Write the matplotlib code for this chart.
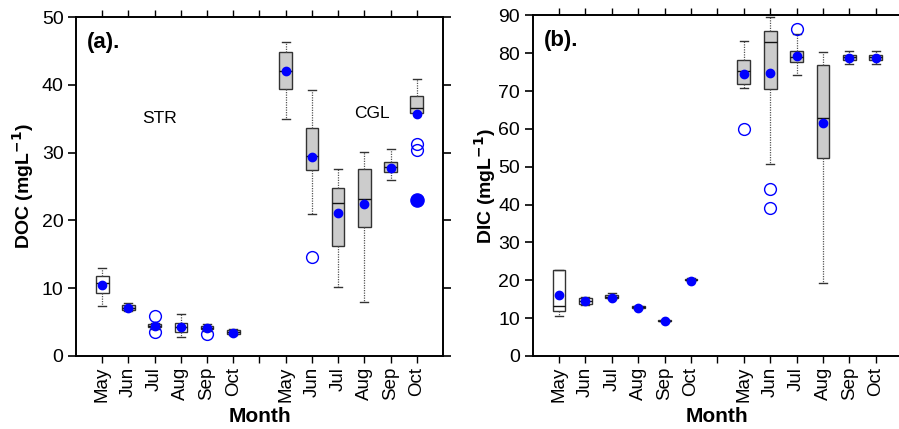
import matplotlib
matplotlib.use("Agg")
import matplotlib.pyplot as plt

plt.rcParams['font.family'] = ['Liberation Sans', 'DejaVu Sans']

months = ['May', 'Jun', 'Jul', 'Aug', 'Sep', 'Oct']
tick_labels = months + [''] + months
tick_pos = list(range(1, 14))
positions = [1, 2, 3, 4, 5, 6, 8, 9, 10, 11, 12, 13]

# DOC (panel a): STR May..Oct, CGL May..Oct
doc_whislo = [7.3, 6.6, 3.9, 2.75, 3.7, 3.1, 35.0, 20.9, 10.1, 7.9, 25.9, 35.8]
doc_q1 = [9.2, 6.7, 4.2, 3.45, 3.95, 3.2, 39.45, 27.45, 16.2, 18.96, 27.2, 35.8]
doc_med = [10.8, 7.1, 4.4, 4.2, 4.15, 3.5, 42.0, 29.5, 22.5, 23.1, 27.9, 36.6]
doc_q3 = [11.8, 7.45, 4.7, 4.9, 4.35, 3.75, 44.8, 33.6, 24.85, 27.6, 28.6, 38.3]
doc_whishi = [13.0, 7.85, 4.9, 6.1, 4.7, 3.95, 46.35, 39.3, 27.6, 30.15, 30.6, 40.85]
doc_mean = [10.5, 7.0, 4.35, 4.2, 4.1, 3.3, 42.0, 29.4, 21.05, 22.4, 27.7, 35.65]
doc_fliers = [[], [], [5.9, 3.55], [], [3.2], [], [], [14.6], [], [], [], [31.3, 30.4]]
doc_fill = ['w', '#cccccc', '#cccccc', 'w', '#cccccc', '#cccccc',
            '#cccccc', '#cccccc', '#cccccc', '#cccccc', '#cccccc', '#cccccc']
doc_extreme_pos = [13]
doc_extreme_val = [23.0]

# DIC (panel b)
dic_whislo = [10.6, 13.6, 15.1, 12.5, 9.0, 19.9, 70.7, 50.8, 74.2, 19.4, 77.1, 77.1]
dic_q1 = [12.0, 13.8, 15.3, 12.7, 9.15, 20.0, 71.75, 70.4, 77.6, 52.2, 78.1, 78.1]
dic_med = [13.1, 14.5, 15.7, 12.9, 9.3, 20.2, 75.4, 82.9, 78.9, 62.9, 78.9, 78.9]
dic_q3 = [22.7, 15.2, 16.0, 13.1, 9.45, 20.4, 78.1, 85.9, 80.65, 77.0, 79.6, 79.6]
dic_whishi = [22.7, 15.6, 16.6, 13.2, 9.5, 20.5, 83.1, 89.6, 85.0, 80.3, 80.65, 80.65]
dic_mean = [16.0, 14.4, 15.4, 12.8, 9.3, 19.9, 74.5, 74.8, 79.15, 61.6, 78.8, 78.8]
dic_fliers = [[], [], [], [], [], [], [60.0], [44.05, 39.0], [86.5], [], [], []]
dic_fill = ['w', 'w', '#cccccc', '#cccccc', '#cccccc', '#cccccc',
            '#cccccc', '#cccccc', '#cccccc', '#cccccc', '#cccccc', '#cccccc']

BLUE = '#0000ff'


def draw_panel(ax, whislo, q1, med, q3, whishi, mean, fliers, fills, ylim, yticks, ylabel, tag):
    stats = []
    for i in range(len(positions)):
        stats.append(dict(whislo=whislo[i], q1=q1[i], med=med[i], q3=q3[i],
                          whishi=whishi[i], mean=mean[i], fliers=fliers[i]))
    bp = ax.bxp(stats, positions=positions, widths=0.48, patch_artist=True,
                showmeans=True, showfliers=True,
                boxprops=dict(edgecolor='#333333', linewidth=1.0),
                medianprops=dict(color='#111111', linewidth=1.0),
                whiskerprops=dict(color='#555555', linewidth=0.9, linestyle=(0, (1, 1))),
                capprops=dict(color='#333333', linewidth=1.0),
                capwidths=0.3,
                meanprops=dict(marker='o', markerfacecolor=BLUE, markeredgecolor=BLUE,
                               markersize=6),
                flierprops=dict(marker='o', markerfacecolor='none', markeredgecolor=BLUE,
                                markersize=8.5, markeredgewidth=1.0))
    for patch, c in zip(bp['boxes'], fills):
        patch.set_facecolor(c)
    for m in bp['means']:
        m.set_zorder(5)
    ax.set_xlim(0, 14)
    ax.set_ylim(*ylim)
    ax.set_yticks(yticks)
    ax.set_xticks(tick_pos)
    ax.set_xticklabels(tick_labels, rotation=90, fontsize=13.5)
    ax.tick_params(axis='y', labelsize=14, direction='out', length=6, width=1.2, right=True, pad=3)
    ax.tick_params(axis='x', direction='out', length=5, width=1.0, top=True, pad=3)
    ax.tick_params(axis='x', which='major', labeltop=False)
    for s in ax.spines.values():
        s.set_linewidth(1.4)
    ax.set_ylabel(ylabel, fontsize=14, fontweight='bold', va='center')
    ax.set_xlabel('Month', fontsize=15, fontweight='bold', va='center')
    h = ax.get_position().height * 429
    ax.xaxis.set_label_coords(0.5, -(417 - 356) / h)
    ax.text(0.03, 0.925, tag, transform=ax.transAxes, fontsize=16, fontweight='bold',
            va='center', ha='left')


fig = plt.figure(figsize=(8.99, 4.29), dpi=100)
ax1 = fig.add_axes([76 / 899, 1 - 355.7 / 429, 367 / 899, (355.7 - 17.3) / 429])
ax2 = fig.add_axes([532.6 / 899, 1 - 356 / 429, 369.6 / 899, (356 - 15.3) / 429])

draw_panel(ax1, doc_whislo, doc_q1, doc_med, doc_q3, doc_whishi, doc_mean, doc_fliers,
           doc_fill, (0, 50), [0, 10, 20, 30, 40, 50], 'DOC (mgL$^{\\mathbf{-1}}$)', '(a).')
ax1.plot(doc_extreme_pos, doc_extreme_val, 'o', color=BLUE, markersize=9.5, zorder=6)
ax1.text(3.2, 35.0, 'STR', fontsize=12.5, ha='center', va='center')
ax1.text(11.3, 35.8, 'CGL', fontsize=12.5, ha='center', va='center')
ax1.yaxis.set_label_coords(-(76 - 23) / 367, 0.5)

draw_panel(ax2, dic_whislo, dic_q1, dic_med, dic_q3, dic_whishi, dic_mean, dic_fliers,
           dic_fill, (0, 90), list(range(0, 91, 10)), 'DIC (mgL$^{\\mathbf{-1}}$)', '(b).')
ax2.yaxis.set_label_coords(-(532.6 - 485) / 369.6, 0.5)

fig.savefig('out.png', dpi=100)
